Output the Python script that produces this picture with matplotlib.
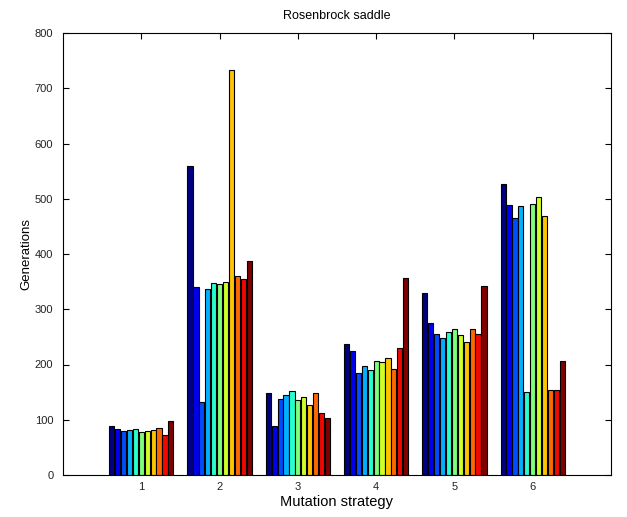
import numpy as np
import matplotlib.pyplot as plt

strategies = [1, 2, 3, 4, 5, 6]
# 11 variants per mutation strategy (generations)
gen = [
    [89, 84, 79, 81, 83, 78, 80, 81, 85, 72, 97],
    [560, 340, 132, 337, 348, 346, 350, 733, 361, 355, 388],
    [148, 88, 137, 144, 152, 136, 141, 127, 148, 112, 103],
    [237, 224, 184, 198, 190, 206, 205, 211, 191, 229, 356],
    [329, 276, 255, 248, 258, 265, 254, 241, 265, 256, 342],
    [527, 488, 466, 486, 151, 490, 503, 469, 153, 154, 206],
]

plt.rcParams['font.family'] = ['Liberation Sans', 'DejaVu Sans']

data = np.array(gen)
n_groups, n_bars = data.shape
colors = plt.cm.jet(np.linspace(0, 1, n_bars))

fig = plt.figure(figsize=(6.27, 5.17), dpi=100)
ax = fig.add_axes([63 / 627, 1 - 475 / 517, 548 / 627, 442 / 517])

group_w = 0.83
slot = group_w / n_bars
x = np.arange(1, n_groups + 1)
for j in range(n_bars):
    offs = -group_w / 2 + slot * (j + 0.5)
    ax.bar(x + offs, data[:, j], width=slot * 0.88, color=colors[j],
           edgecolor='black', linewidth=0.8, zorder=2)

ax.set_xlim(0, 7)
ax.set_ylim(0, 800)
ax.set_xticks(strategies)
ax.set_yticks(np.arange(0, 801, 100))
ax.tick_params(direction='in', labelsize=8, top=True, right=True, length=4,
               labelcolor='#222222')
ax.tick_params(axis='y', pad=7)
ax.tick_params(axis='x', pad=5)
ax.set_xlabel('Mutation strategy', fontsize=10.5, labelpad=2)
ax.set_ylabel('Generations', fontsize=9.5, labelpad=2)
ax.set_title('Rosenbrock saddle', fontsize=9, pad=10)

fig.savefig('out.png', dpi=100)
